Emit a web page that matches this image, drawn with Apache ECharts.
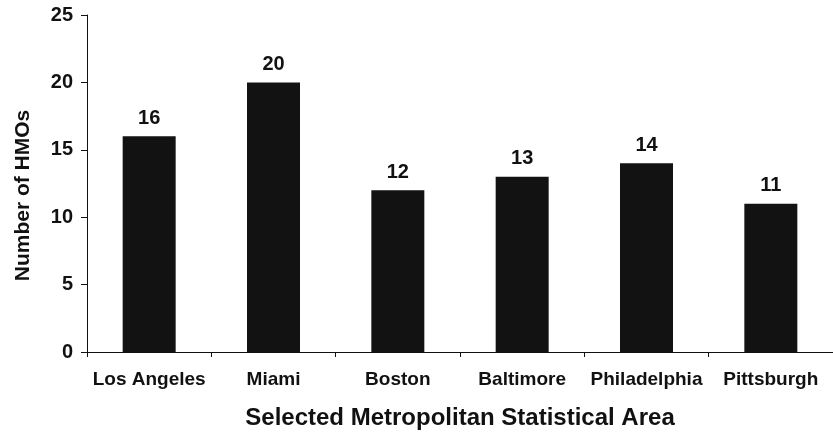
<!DOCTYPE html>
<html><head><meta charset="utf-8">
<script src="https://cdn.jsdelivr.net/npm/echarts@6/dist/echarts.min.js"></script>
<style>html,body{margin:0;padding:0;background:#fff}#c{width:833px;height:435px}</style>
</head><body><div id="c"></div>
<script>
const categories = ["Los Angeles","Miami","Boston","Baltimore","Philadelphia","Pittsburgh"];
const values = [16,20,12,13,14,11];
const yTicks = [0,5,10,15,20,25];
const yTitle = "Number of HMOs";
const xTitle = "Selected Metropolitan Statistical Area";

const chart = echarts.init(document.getElementById('c'));
const font = '"Liberation Sans", Arial, sans-serif';
chart.setOption({
  animation:false,
  grid:{left:87,right:-2,top:15,bottom:82},
  xAxis:{type:'category',data:categories,
    name:xTitle,nameLocation:'middle',nameGap:54,
    nameTextStyle:{fontFamily:font,fontWeight:'bold',fontSize:24,color:'#111'},
    axisLine:{lineStyle:{color:'#111',width:1}},
    axisTick:{show:true,interval:0,length:5,lineStyle:{color:'#111'}},
    axisLabel:{interval:0,fontFamily:font,fontWeight:'bold',fontSize:19,color:'#111',margin:18}
  },
  yAxis:{type:'value',min:yTicks[0],max:yTicks[yTicks.length-1],interval:5,
    name:yTitle,nameLocation:'middle',nameGap:53,nameRotate:90,
    nameTextStyle:{fontFamily:font,fontWeight:'bold',fontSize:21,color:'#111',padding:[0,24,0,0]},
    axisLine:{show:true,lineStyle:{color:'#111',width:1}},
    axisTick:{show:true,length:6,lineStyle:{color:'#111'}},
    splitLine:{show:false},
    axisLabel:{fontFamily:font,fontWeight:'bold',fontSize:20,color:'#111',margin:14}
  },
  series:[{type:'bar',data:values,barWidth:53,
    itemStyle:{color:'#121212'},
    label:{show:true,position:'top',distance:8,fontFamily:font,fontWeight:'bold',fontSize:20,color:'#111'}
  }]
});
</script></body></html>
